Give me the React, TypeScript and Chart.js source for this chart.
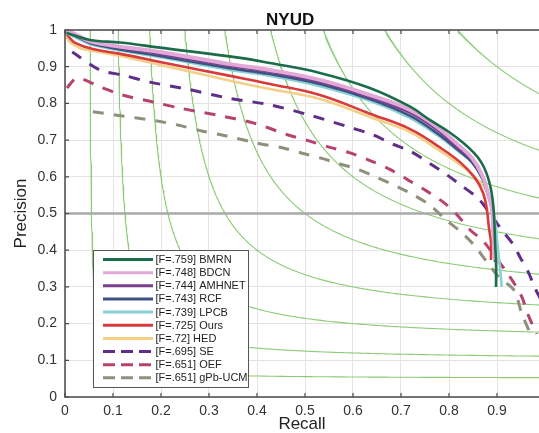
import React, { useEffect, useRef } from "react";
import { Chart, registerables } from "chart.js";

Chart.register(...registerables);

// ---------- data ----------
const xTicks = [0, 0.1, 0.2, 0.3, 0.4, 0.5, 0.6, 0.7, 0.8, 0.9];
const yTicks = [0, 0.1, 0.2, 0.3, 0.4, 0.5, 0.6, 0.7, 0.8, 0.9, 1];
const isoFLevels = [0.1, 0.2, 0.3, 0.4, 0.5, 0.6, 0.7, 0.8, 0.9];
const halfLine: [number, number][] = [[0, 0.5], [1, 0.5]];

const BMRN: [number, number][] = [
  [0.004, 0.992], [0.052, 0.973], [0.115, 0.966], [0.198, 0.952], [0.365, 0.924],
  [0.427, 0.910], [0.531, 0.883], [0.635, 0.842], [0.719, 0.791], [0.760, 0.755],
  [0.800, 0.722], [0.830, 0.692], [0.852, 0.665], [0.867, 0.640], [0.878, 0.610],
  [0.886, 0.575], [0.891, 0.537], [0.894, 0.490], [0.896, 0.420], [0.898, 0.365],
  [0.898, 0.300],
];
const BDCN: [number, number][] = [
  [0.002, 1.0], [0.021, 0.989], [0.058, 0.967], [0.198, 0.940], [0.344, 0.907],
  [0.427, 0.891], [0.531, 0.864], [0.635, 0.823], [0.719, 0.782], [0.775, 0.736],
  [0.819, 0.687], [0.848, 0.651], [0.869, 0.605], [0.881, 0.556], [0.890, 0.510],
  [0.892, 0.463], [0.894, 0.401], [0.896, 0.373],
];
const AMHNET: [number, number][] = [
  [0.002, 0.997], [0.021, 0.986], [0.058, 0.965], [0.198, 0.935], [0.344, 0.902],
  [0.427, 0.886], [0.531, 0.858], [0.635, 0.817], [0.719, 0.774], [0.775, 0.728],
  [0.819, 0.678], [0.848, 0.646], [0.869, 0.600], [0.881, 0.553], [0.890, 0.510],
  [0.892, 0.460], [0.894, 0.401], [0.896, 0.373],
];
const RCF: [number, number][] = [
  [0.002, 0.995], [0.021, 0.984], [0.058, 0.962], [0.198, 0.929], [0.344, 0.896],
  [0.427, 0.880], [0.531, 0.853], [0.635, 0.812], [0.719, 0.766], [0.775, 0.719],
  [0.819, 0.673], [0.848, 0.640], [0.869, 0.597], [0.881, 0.553], [0.890, 0.507],
  [0.892, 0.460], [0.894, 0.401], [0.896, 0.368],
];
const LPCB: [number, number][] = [
  [0.002, 0.992], [0.021, 0.981], [0.058, 0.959], [0.198, 0.926], [0.344, 0.891],
  [0.427, 0.875], [0.531, 0.847], [0.635, 0.807], [0.719, 0.760], [0.775, 0.714],
  [0.819, 0.670], [0.848, 0.638], [0.869, 0.594], [0.881, 0.550], [0.892, 0.504],
  [0.898, 0.455], [0.900, 0.428], [0.904, 0.381], [0.910, 0.300],
];
const OURS: [number, number][] = [
  [0.002, 0.992], [0.010, 0.978], [0.021, 0.965], [0.058, 0.948], [0.115, 0.935],
  [0.198, 0.913], [0.344, 0.875], [0.427, 0.853], [0.531, 0.823], [0.635, 0.772],
  [0.719, 0.730], [0.781, 0.680], [0.823, 0.640], [0.854, 0.597], [0.871, 0.556],
  [0.879, 0.510], [0.883, 0.463], [0.8875, 0.420], [0.8875, 0.373],
];
const HED: [number, number][] = [
  [0.002, 0.986], [0.010, 0.967], [0.031, 0.951], [0.058, 0.943], [0.115, 0.929],
  [0.198, 0.905], [0.344, 0.862], [0.427, 0.839], [0.531, 0.812], [0.635, 0.763],
  [0.719, 0.722], [0.767, 0.683], [0.805, 0.650], [0.838, 0.618], [0.860, 0.591],
  [0.881, 0.556], [0.892, 0.510], [0.896, 0.455], [0.898, 0.381], [0.900, 0.368],
];
const SE: [number, number][] = [
  [0.015, 0.940], [0.073, 0.891], [0.121, 0.877], [0.177, 0.858], [0.254, 0.839],
  [0.338, 0.815], [0.427, 0.796], [0.510, 0.768], [0.598, 0.733], [0.642, 0.714],
  [0.683, 0.689], [0.719, 0.670], [0.758, 0.638], [0.796, 0.605], [0.827, 0.575],
  [0.860, 0.542], [0.885, 0.501], [0.910, 0.455], [0.933, 0.417], [0.948, 0.381],
  [0.965, 0.341], [0.979, 0.297], [0.992, 0.264],
];
const OEF: [number, number][] = [
  [0.004, 0.842], [0.025, 0.869], [0.073, 0.845], [0.119, 0.823], [0.183, 0.804],
  [0.240, 0.787], [0.317, 0.768], [0.392, 0.747], [0.465, 0.714], [0.508, 0.698],
  [0.550, 0.681], [0.594, 0.665], [0.638, 0.643], [0.679, 0.619], [0.715, 0.591],
  [0.750, 0.564], [0.790, 0.529], [0.817, 0.496], [0.844, 0.455], [0.871, 0.425],
  [0.917, 0.346], [0.938, 0.305], [0.952, 0.272], [0.965, 0.223], [0.983, 0.172],
];
const GPB_UCM: [number, number][] = [
  [0.058, 0.777], [0.108, 0.768], [0.192, 0.752], [0.235, 0.741], [0.285, 0.725],
  [0.327, 0.714], [0.400, 0.692], [0.456, 0.678], [0.492, 0.665], [0.533, 0.651],
  [0.573, 0.635], [0.613, 0.619], [0.652, 0.597], [0.694, 0.572], [0.727, 0.550],
  [0.763, 0.520], [0.794, 0.482], [0.823, 0.452], [0.850, 0.417], [0.879, 0.368],
  [0.906, 0.324], [0.935, 0.292], [0.952, 0.226], [0.967, 0.180],
];

const methodNames = ["BMRN", "BDCN", "AMHNET", "RCF", "LPCB", "Ours", "HED", "SE", "OEF", "gPb-UCM"];
const methodF = [".759", ".748", ".744", ".743", ".739", ".725", ".72", ".695", ".651", ".651"];
const methodData = [BMRN, BDCN, AMHNET, RCF, LPCB, OURS, HED, SE, OEF, GPB_UCM];

// ---------- styles ----------
const methodColors = [
  "#1b6c4b", "#e2a9d8", "#7c3f8e", "#3e5382", "#88d2d4",
  "#d93a3c", "#f3cf88", "#5e2e89", "#b6436f", "#8f8f7c",
];
const methodWidths = [2.6, 4, 2.6, 2.6, 2.6, 2.6, 2.6, 3, 3, 3];
const methodDashed = [false, false, false, false, false, false, false, true, true, true];

const FONT = '"Liberation Sans", Arial, Helvetica, sans-serif';

function isoCurve(f: number) {
  const rMin = f / (2 - f);
  const pts: { x: number; y: number }[] = [];
  const N = 300;
  for (let i = 0; i <= N; i++) {
    const t = i / N;
    const r = rMin + (1 - rMin) * t * t * t;
    const p = (f * r) / (2 * r - f);
    pts.push({ x: r, y: Math.min(1, p) });
  }
  return pts;
}

const toXY = (arr: [number, number][]) => arr.map(([x, y]) => ({ x, y }));

const framePlugin = {
  id: "frame",
  afterDraw(chart: any) {
    const { ctx, chartArea, scales } = chart;
    const { left, right, top, bottom } = chartArea;
    const xs = scales.x;
    const ys = scales.y;
    ctx.save();
    ctx.strokeStyle = "#4a4a4a";
    ctx.lineWidth = 1.5;
    ctx.beginPath();
    ctx.moveTo(right, top);
    ctx.lineTo(left, top);
    ctx.lineTo(left, bottom);
    ctx.lineTo(right, bottom);
    ctx.stroke();
    ctx.lineWidth = 1.2;
    ctx.beginPath();
    xTicks.forEach((v) => {
      const px = xs.getPixelForValue(v);
      ctx.moveTo(px, bottom);
      ctx.lineTo(px, bottom - 4);
      ctx.moveTo(px, top);
      ctx.lineTo(px, top + 4);
    });
    yTicks.forEach((v) => {
      const py = ys.getPixelForValue(v);
      ctx.moveTo(left, py);
      ctx.lineTo(left + 4, py);
    });
    ctx.stroke();

    ctx.fillStyle = "#111";
    ctx.font = `bold 17px ${FONT}`;
    ctx.textAlign = "center";
    ctx.textBaseline = "alphabetic";
    ctx.fillText("NYUD", left + (right - left) * 0.475, 25);

    const bx = 93.5, by = 250.5, bw = 155, bh = 137;
    ctx.fillStyle = "#ffffff";
    ctx.fillRect(bx, by, bw, bh);
    ctx.strokeStyle = "#555";
    ctx.lineWidth = 1;
    ctx.strokeRect(bx, by, bw, bh);
    ctx.font = `11px ${FONT}`;
    ctx.textAlign = "left";
    ctx.textBaseline = "middle";
    methodNames.forEach((name, i) => {
      const yy = 259.5 + 13.15 * i;
      ctx.beginPath();
      ctx.strokeStyle = methodColors[i];
      ctx.lineWidth = 3;
      ctx.setLineDash(methodDashed[i] ? [12, 6] : []);
      ctx.moveTo(103, yy);
      ctx.lineTo(153, yy);
      ctx.stroke();
      ctx.setLineDash([]);
      ctx.fillStyle = "#222";
      ctx.fillText(`[F=${methodF[i]}] ${name}`, 155.5, yy + 0.5);
    });
    ctx.restore();
  },
};

export default function App() {
  const canvasRef = useRef<HTMLCanvasElement | null>(null);

  useEffect(() => {
    document.body.style.margin = "0";
    const canvas = canvasRef.current;
    if (!canvas) return;

    const methodSets = methodData.map((d, i) => ({
      label: `[F=${methodF[i]}] ${methodNames[i]}`,
      data: toXY(d),
      borderColor: methodColors[i],
      backgroundColor: methodColors[i],
      borderWidth: methodWidths[i],
      borderDash: methodDashed[i] ? [11, 10] : [],
      showLine: true,
      pointRadius: 0,
      tension: methodDashed[i] ? 0.3 : 0.4,
      fill: false,
    }));

    const halfSet = {
      label: "P=0.5",
      data: toXY(halfLine),
      borderColor: "#a9a9a9",
      borderWidth: 2.5,
      showLine: true,
      pointRadius: 0,
      fill: false,
    };

    const isoSets = isoFLevels.map((f) => ({
      label: `iso-F ${f}`,
      data: isoCurve(f),
      borderColor: "rgba(120,195,95,0.85)",
      borderWidth: 1.1,
      showLine: true,
      pointRadius: 0,
      fill: false,
    }));

    const chart = new Chart(canvas, {
      type: "scatter",
      data: { datasets: [...methodSets, halfSet, ...isoSets] as any },
      options: {
        animation: false,
        responsive: false,
        devicePixelRatio: 1,
        layout: { padding: { top: 30, right: 0, left: 0, bottom: 0 } },
        plugins: {
          legend: { display: false },
          title: { display: false },
          tooltip: { enabled: false },
        },
        scales: {
          x: {
            type: "linear",
            min: 0,
            max: 0.9875,
            afterBuildTicks: (scale: any) => {
              scale.ticks = xTicks.map((v) => ({ value: v }));
            },
            afterFit: (scale: any) => {
              scale.height = 36;
            },
            grid: { color: "#e4e4e4", lineWidth: 1, drawTicks: false },
            border: { display: false },
            ticks: {
              padding: 6,
              color: "#333",
              font: { family: FONT, size: 14 },
              callback: (v: any) => String(Math.round(Number(v) * 10) / 10),
            },
            title: {
              display: true,
              text: "Recall",
              color: "#222",
              font: { family: FONT, size: 17, lineHeight: 1 },
              padding: { top: 0, bottom: 0 },
            },
          },
          y: {
            type: "linear",
            min: 0,
            max: 1,
            afterBuildTicks: (scale: any) => {
              scale.ticks = yTicks.map((v) => ({ value: v }));
            },
            afterFit: (scale: any) => {
              scale.width = 65;
            },
            grid: { color: "#e4e4e4", lineWidth: 1, drawTicks: false },
            border: { display: false },
            ticks: {
              padding: 8,
              color: "#333",
              font: { family: FONT, size: 14 },
              callback: (v: any) => String(Math.round(Number(v) * 10) / 10),
            },
            title: {
              display: true,
              text: "Precision",
              color: "#222",
              font: { family: FONT, size: 17, lineHeight: 1 },
              padding: { top: 13, bottom: 0 },
            },
          },
        },
      },
      plugins: [framePlugin],
    });

    return () => chart.destroy();
  }, []);

  return (
    <div style={{ width: 539, height: 433, background: "#fff" }}>
      <canvas ref={canvasRef} width={539} height={433} style={{ display: "block" }} />
    </div>
  );
}
